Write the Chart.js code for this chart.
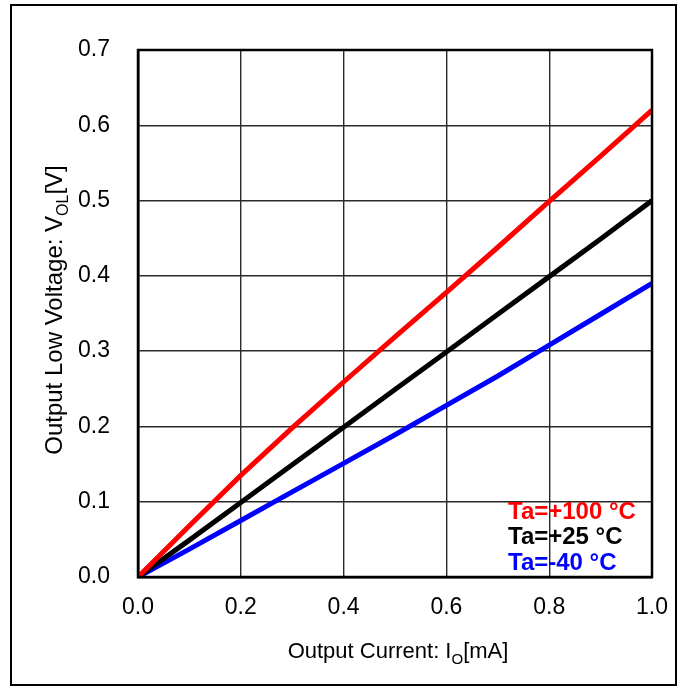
<!DOCTYPE html>
<html>
<head>
<meta charset="utf-8">
<script src="https://cdn.jsdelivr.net/npm/chart.js@4/dist/chart.umd.min.js"></script>
<style>
html,body{margin:0;padding:0;background:#fff;}
#wrap{width:685px;height:687px;position:relative;}
</style>
</head>
<body>
<div id="wrap"><canvas id="c" width="685" height="687"></canvas></div>
<script>
const currentMA = [0, 0.1, 0.2, 0.3, 0.4, 0.5, 0.6, 0.7, 0.8, 0.9, 1.0];
const vol100 = [0, 0.068, 0.135, 0.198, 0.259, 0.319, 0.378, 0.438, 0.499, 0.559, 0.620];
const vol25 = [0, 0.049, 0.099, 0.149, 0.199, 0.249, 0.299, 0.349, 0.399, 0.449, 0.500];
const volM40 = [0, 0.037, 0.075, 0.113, 0.151, 0.189, 0.228, 0.267, 0.308, 0.349, 0.390];
const seriesLabels = ['Ta=+100 °C', 'Ta=+25 °C', 'Ta=-40 °C'];
const xTicks = [0, 0.2, 0.4, 0.6, 0.8, 1.0];
const yTicks = [0, 0.1, 0.2, 0.3, 0.4, 0.5, 0.6, 0.7];
const xTitle = [['Output Current: I', false], ['O', true], ['[mA]', false]];
const yTitle = [['Output Low Voltage: V', false], ['OL', true], ['[V]', false]];

const FONT = '"Liberation Sans", Arial, sans-serif';
const colors = ['#ff0000', '#000000', '#0000ff'];
const toPts = arr => arr.map((v, i) => ({x: currentMA[i], y: v}));

function drawParts(ctx, parts, cx, baseline, size, subSize) {
  let w = 0;
  parts.forEach(([t, sub]) => {
    ctx.font = (sub ? subSize : size) + 'px ' + FONT;
    w += ctx.measureText(t).width;
  });
  let x = cx - w / 2;
  ctx.textAlign = 'left';
  ctx.textBaseline = 'alphabetic';
  parts.forEach(([t, sub]) => {
    ctx.font = (sub ? subSize : size) + 'px ' + FONT;
    ctx.fillText(t, x, baseline + (sub ? size * 0.25 : 0));
    x += ctx.measureText(t).width;
  });
}

const decor = {
  id: 'decor',
  afterDraw(chart) {
    const ctx = chart.ctx;
    const a = chart.chartArea;
    ctx.save();
    ctx.strokeStyle = '#000';
    ctx.lineWidth = 2;
    ctx.strokeRect(11, 5, 665, 680);
    ctx.lineWidth = 2.5;
    ctx.strokeRect(a.left, a.top, a.right - a.left, a.bottom - a.top);
    ctx.fillStyle = '#000';
    drawParts(ctx, xTitle, 398, 658, 22, 15);
    ctx.save();
    ctx.translate(62, 310);
    ctx.rotate(-Math.PI / 2);
    drawParts(ctx, yTitle, 0, 0, 24, 16);
    ctx.restore();
    ctx.font = 'bold 24px ' + FONT;
    ctx.textAlign = 'left';
    ctx.textBaseline = 'middle';
    seriesLabels.forEach((s, i) => {
      ctx.fillStyle = colors[i];
      ctx.fillText(s, 508, 512 + i * 25.5);
    });
    ctx.restore();
  }
};

new Chart(document.getElementById('c'), {
  type: 'line',
  data: {
    datasets: [vol100, vol25, volM40].map((arr, i) => ({
      label: seriesLabels[i],
      data: toPts(arr),
      borderColor: colors[i],
      backgroundColor: colors[i],
      borderWidth: 5,
      pointRadius: 0,
      tension: 0,
      fill: false
    }))
  },
  options: {
    responsive: false,
    animation: false,
    layout: {padding: {top: 50, right: 33, left: 0, bottom: 0}},
    plugins: {legend: {display: false}, tooltip: {enabled: false}},
    scales: {
      x: {
        type: 'linear', min: 0, max: 1.0,
        afterFit: s => { s.height = 110; },
        afterBuildTicks: s => { s.ticks = xTicks.map(v => ({value: v})); },
        grid: {color: '#2a2a2a', lineWidth: 1.4, drawTicks: false},
        border: {color: '#000', width: 2.5},
        ticks: {padding: 17, color: '#000', font: {family: FONT, size: 23}, callback: v => v.toFixed(1)}
      },
      y: {
        type: 'linear', min: 0, max: 0.7,
        afterFit: s => { s.width = 138; },
        afterBuildTicks: s => { s.ticks = yTicks.map(v => ({value: v})); },
        grid: {color: '#2a2a2a', lineWidth: 1.4, drawTicks: false},
        border: {color: '#000', width: 2.5},
        ticks: {padding: 28, color: '#000', font: {family: FONT, size: 23}, callback: v => v.toFixed(1)}
      }
    }
  },
  plugins: [decor]
});
</script>
</body>
</html>
